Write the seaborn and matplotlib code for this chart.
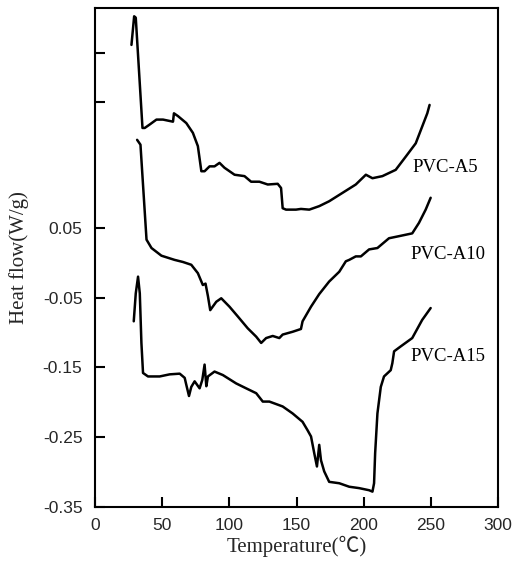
import pandas as pd
import matplotlib
matplotlib.use("Agg")
import matplotlib.pyplot as plt
import seaborn as sns

# DSC curves (temperature in C, heat flow in W/g)
a5_temp = [27.2, 29.2, 30.4, 35.4, 37.1, 40.8, 45.8, 50.7, 58.1, 58.8, 61.8, 68.0,
           72.9, 76.6, 79.2, 81.6, 85.3, 89.0, 92.7, 96.4, 103.9, 111.3, 116.2,
           122.4, 128.6, 136.0, 138.5, 139.7, 142.2, 149.6, 153.3, 159.5, 166.9,
           174.3, 184.2, 194.1, 201.6, 206.5, 213.9, 223.8, 231.3, 238.7, 243.5,
           247.3, 249.0]
a5_flow = [0.312, 0.353, 0.351, 0.193, 0.193, 0.198, 0.205, 0.205, 0.202, 0.214,
           0.210, 0.200, 0.186, 0.167, 0.131, 0.131, 0.138, 0.138, 0.143, 0.136,
           0.126, 0.124, 0.116, 0.116, 0.112, 0.113, 0.107, 0.078, 0.076, 0.076,
           0.077, 0.076, 0.081, 0.088, 0.100, 0.112, 0.126, 0.121, 0.124, 0.133,
           0.152, 0.171, 0.195, 0.214, 0.226]

a10_temp = [31.4, 33.9, 38.4, 42.1, 49.5, 59.3, 65.5, 71.7, 76.6, 80.3, 82.3, 84.1,
            85.8, 90.3, 94.0, 100.1, 106.3, 113.7, 120.0, 123.7, 127.4, 132.3,
            137.2, 139.7, 147.1, 153.3, 154.5, 160.8, 166.9, 174.3, 181.8, 186.7,
            189.2, 194.1, 197.9, 204.0, 210.2, 218.8, 226.3, 236.1, 241.1, 246.1,
            249.8]
a10_flow = [0.176, 0.169, 0.033, 0.021, 0.010, 0.004, 0.001, -0.003, -0.015, -0.032,
            -0.030, -0.048, -0.068, -0.056, -0.051, -0.063, -0.077, -0.094, -0.106,
            -0.115, -0.108, -0.105, -0.108, -0.103, -0.099, -0.095, -0.084, -0.063,
            -0.045, -0.027, -0.013, 0.002, 0.004, 0.009, 0.009, 0.019, 0.021, 0.035,
            0.038, 0.042, 0.057, 0.076, 0.093]

a15_temp = [28.9, 30.4, 32.1, 33.4, 34.6, 35.8, 39.5, 48.2, 55.6, 63.1, 66.8, 68.0,
            70.0, 71.7, 74.2, 77.9, 79.9, 81.6, 82.9, 84.1, 89.0, 95.2, 105.1, 112.5,
            120.0, 124.9, 129.8, 139.7, 147.1, 154.5, 158.2, 160.8, 163.2, 165.2,
            166.9, 168.2, 170.6, 174.3, 181.8, 189.2, 196.6, 204.0, 206.5, 207.7,
            208.5, 210.2, 212.7, 215.1, 220.1, 221.3, 222.6, 227.5, 236.1, 243.5,
            249.8]
a15_flow = [-0.084, -0.044, -0.020, -0.044, -0.115, -0.158, -0.163, -0.163, -0.160,
            -0.159, -0.165, -0.175, -0.191, -0.178, -0.170, -0.180, -0.168, -0.146,
            -0.177, -0.163, -0.156, -0.161, -0.173, -0.180, -0.187, -0.199, -0.199,
            -0.206, -0.216, -0.228, -0.240, -0.249, -0.273, -0.292, -0.261, -0.283,
            -0.299, -0.314, -0.316, -0.321, -0.323, -0.326, -0.328, -0.316, -0.273,
            -0.216, -0.178, -0.163, -0.154, -0.144, -0.127, -0.120, -0.108, -0.082,
            -0.065]

labels = ["PVC-A5", "PVC-A10", "PVC-A15"]
label_pos = [(236, 0.136), (235, 0.011), (235, -0.1345)]

yticks = [0.05, -0.05, -0.15, -0.25, -0.35]
ytick_labels = ["0.05", "-0.05", "-0.15", "-0.25", "-0.35"]
extra_yticks = [0.2306, 0.301]
xticks = [0, 50, 100, 150, 200, 250, 300]

sns.set_theme(style="ticks")
plt.rcParams["font.family"] = ["Liberation Serif", "Noto Sans CJK SC", "DejaVu Sans"]

fig = plt.figure(figsize=(5.13, 5.65), dpi=100)
ax = fig.add_axes([0.185, 0.1027, 0.786, 0.8833])

curves = [(a5_temp, a5_flow), (a10_temp, a10_flow), (a15_temp, a15_flow)]
for (t, f), name in zip(curves, labels):
    d = pd.DataFrame({"T": t, "HF": f})
    sns.lineplot(data=d, x="T", y="HF", ax=ax, color="black", linewidth=1.8,
                 sort=False, estimator=None)

for name, (x, y) in zip(labels, label_pos):
    ax.text(x, y, name, fontsize=13.5, va="center", ha="left", color="black")

ax.set_xlim(0, 300)
ax.set_ylim(-0.35, 0.365)
ax.set_xticks(xticks)
ax.set_yticks(yticks + extra_yticks)
ax.set_yticklabels(ytick_labels + ["", ""])
ax.tick_params(direction="in", length=7, width=1.5, labelsize=12.5, color="black")
ax.tick_params(axis="y", pad=9)
ax.tick_params(axis="x", pad=8)
for lab in ax.get_xticklabels() + ax.get_yticklabels():
    lab.set_family(["Liberation Sans", "DejaVu Sans"])

for s in ax.spines.values():
    s.set_visible(True)
    s.set_linewidth(1.5)
    s.set_color("black")

ax.set_xlabel("Temperature(℃)", fontsize=15, labelpad=2)
ax.set_ylabel("Heat flow(W/g)", fontsize=15, labelpad=10)

fig.savefig("out.png", dpi=100, facecolor="white")
